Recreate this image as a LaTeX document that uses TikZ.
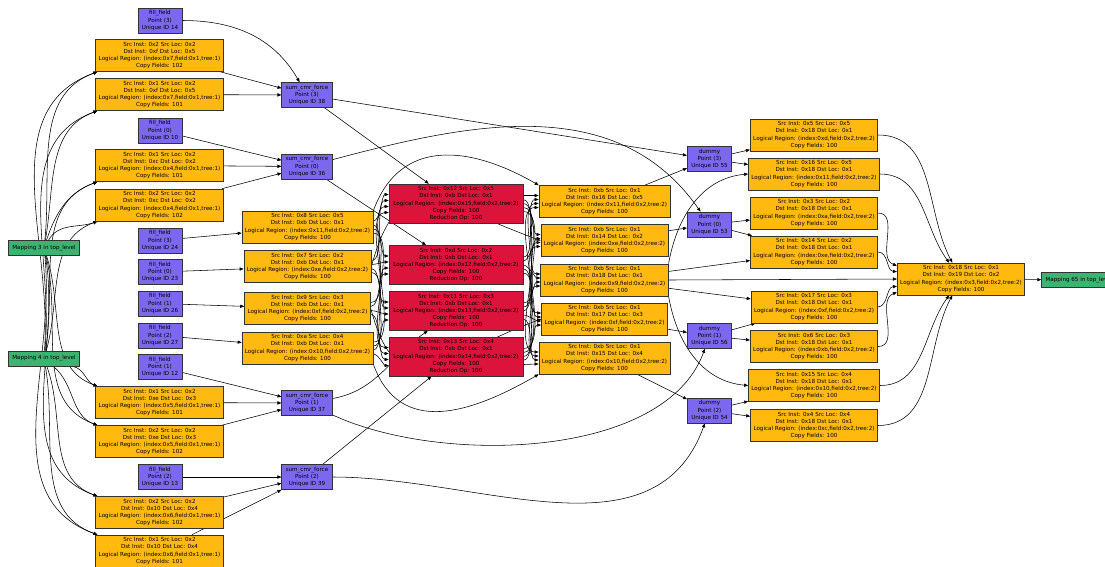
\documentclass[tikz,border=0pt]{standalone}
\usepackage{fontspec}
\setmainfont{DejaVu Sans}
\usetikzlibrary{arrows.meta}
\definecolor{cporange}{RGB}{255,185,15}
\definecolor{redop}{RGB}{220,20,60}
\definecolor{taskblue}{RGB}{123,104,238}
\definecolor{mapgreen}{RGB}{60,179,113}
\newcommand\cpx[6]{Src Inst: #1 Src Loc: #2\\Dst Inst: #3 Dst Loc: #4\\Logical Region: (#5)\\Copy Fields: #6}
\newcommand\tsk[3]{#1\\Point (#2)\\Unique ID #3}
\pgfdeclarelayer{bg}\pgfsetlayers{bg,main}
\begin{document}
\begin{tikzpicture}[x=1pt,y=-1pt,
 box/.style={draw=black!80, line width=0.6pt, align=center, font=\fontsize{5.6}{7.2}\selectfont, inner xsep=3pt, inner ysep=0pt},
 cp/.style={box, fill=cporange, minimum height=32pt},
 rd/.style={box, fill=redop, minimum height=39pt, minimum width=134pt},
 tk/.style={box, fill=taskblue, minimum height=25pt, inner xsep=4pt},
 mp/.style={box, fill=mapgreen, minimum height=15pt, inner xsep=4pt},
 arr/.style={draw=black, line width=0.55pt, -{Triangle[length=4pt,width=3.2pt]}}]
\useasboundingbox (0,0) rectangle (1105,566);
% left column
\node[tk] (fill14) at (160,20.5) {\tsk{fill\_field}{3}{14}};
\node[cp] (cc1) at (159.5,55.5) {\cpx{0x2}{0x2}{0xf}{0x5}{index:0x7,field:0x1,tree:1}{102}};
\node[cp] (cc2) at (159.5,94.5) {\cpx{0x1}{0x2}{0xf}{0x5}{index:0x7,field:0x1,tree:1}{101}};
\node[tk] (fill10) at (160,130.5) {\tsk{fill\_field}{0}{10}};
\node[cp] (cc3) at (159.5,165.5) {\cpx{0x1}{0x2}{0xc}{0x2}{index:0x4,field:0x1,tree:1}{101}};
\node[cp] (cc4) at (159.5,205) {\cpx{0x2}{0x2}{0xc}{0x2}{index:0x4,field:0x1,tree:1}{102}};
\node[tk] (fill24) at (160,240.5) {\tsk{fill\_field}{3}{24}};
\node[tk] (fill23) at (160,272) {\tsk{fill\_field}{0}{23}};
\node[tk] (fill26) at (160,303.5) {\tsk{fill\_field}{1}{26}};
\node[tk] (fill27) at (160,335.5) {\tsk{fill\_field}{2}{27}};
\node[tk] (fill12) at (160,367) {\tsk{fill\_field}{1}{12}};
\node[cp] (cc5) at (159.5,402.5) {\cpx{0x1}{0x2}{0xe}{0x3}{index:0x5,field:0x1,tree:1}{101}};
\node[cp] (cc6) at (159.5,441.5) {\cpx{0x2}{0x2}{0xe}{0x3}{index:0x5,field:0x1,tree:1}{102}};
\node[tk] (fill13) at (160,477) {\tsk{fill\_field}{2}{13}};
\node[cp] (cc7) at (159.5,512.5) {\cpx{0x2}{0x2}{0x10}{0x4}{index:0x6,field:0x1,tree:1}{102}};
\node[cp] (cc8) at (159.5,551) {\cpx{0x1}{0x2}{0x10}{0x4}{index:0x6,field:0x1,tree:1}{101}};
\node[mp] (map3) at (44,248) {Mapping 3 in top\_level};
\node[mp] (map4) at (44,358.5) {Mapping 4 in top\_level};
% sum tasks
\node[tk] (sum38) at (307,95) {\tsk{sum\_cmr\_force}{3}{38}};
\node[tk] (sum36) at (307,166.5) {\tsk{sum\_cmr\_force}{0}{36}};
\node[tk] (sum37) at (307,403) {\tsk{sum\_cmr\_force}{1}{37}};
\node[tk] (sum39) at (307,477) {\tsk{sum\_cmr\_force}{2}{39}};
% middle copies
\node[cp] (mc1) at (307.5,227) {\cpx{0x8}{0x5}{0xb}{0x1}{index:0x11,field:0x2,tree:2}{100}};
\node[cp] (mc2) at (307.5,266.5) {\cpx{0x7}{0x2}{0xb}{0x1}{index:0xe,field:0x2,tree:2}{100}};
\node[cp] (mc3) at (307.5,308.5) {\cpx{0x9}{0x3}{0xb}{0x1}{index:0xf,field:0x2,tree:2}{100}};
\node[cp] (mc4) at (307.5,348) {\cpx{0xa}{0x4}{0xb}{0x1}{index:0x10,field:0x2,tree:2}{100}};
% reductions
\node[rd] (rc1) at (456,203.5) {\cpx{0x12}{0x5}{0xb}{0x1}{index:0x15,field:0x2,tree:2}{100}\\Reduction Op: 100};
\node[rd] (rc2) at (456,265) {\cpx{0xd}{0x2}{0xb}{0x1}{index:0x12,field:0x2,tree:2}{100}\\Reduction Op: 100};
\node[rd] (rc3) at (456,311) {\cpx{0x11}{0x3}{0xb}{0x1}{index:0x13,field:0x2,tree:2}{100}\\Reduction Op: 100};
\node[rd] (rc4) at (456,356.5) {\cpx{0x13}{0x4}{0xb}{0x1}{index:0x14,field:0x2,tree:2}{100}\\Reduction Op: 100};
% outgoing copies
\node[cp] (nc1) at (604.5,201.5) {\cpx{0xb}{0x1}{0x16}{0x5}{index:0x11,field:0x2,tree:2}{100}};
\node[cp] (nc2) at (604.5,240.5) {\cpx{0xb}{0x1}{0x14}{0x2}{index:0xe,field:0x2,tree:2}{100}};
\node[cp] (nc3) at (604.5,280) {\cpx{0xb}{0x1}{0x18}{0x1}{index:0x9,field:0x2,tree:2}{100}};
\node[cp] (nc4) at (604.5,319) {\cpx{0xb}{0x1}{0x17}{0x3}{index:0xf,field:0x2,tree:2}{100}};
\node[cp] (nc5) at (604.5,358) {\cpx{0xb}{0x1}{0x15}{0x4}{index:0x10,field:0x2,tree:2}{100}};
% dummies
\node[tk] (d55) at (709.5,159) {\tsk{dummy}{3}{55}};
\node[tk] (d53) at (709.5,224.5) {\tsk{dummy}{0}{53}};
\node[tk] (d56) at (709.5,336) {\tsk{dummy}{1}{56}};
\node[tk] (d54) at (709.5,410.5) {\tsk{dummy}{2}{54}};
% right copies
\node[cp] (pc1) at (814,135) {\cpx{0x5}{0x5}{0x18}{0x1}{index:0xd,field:0x2,tree:2}{100}};
\node[cp] (pc2) at (814,174) {\cpx{0x16}{0x5}{0x18}{0x1}{index:0x11,field:0x2,tree:2}{100}};
\node[cp] (pc3) at (814,213) {\cpx{0x3}{0x2}{0x18}{0x1}{index:0xa,field:0x2,tree:2}{100}};
\node[cp] (pc4) at (814,252) {\cpx{0x14}{0x2}{0x18}{0x1}{index:0xe,field:0x2,tree:2}{100}};
\node[cp] (pc5) at (814,307) {\cpx{0x17}{0x3}{0x18}{0x1}{index:0xf,field:0x2,tree:2}{100}};
\node[cp] (pc6) at (814,346.5) {\cpx{0x6}{0x3}{0x18}{0x1}{index:0xb,field:0x2,tree:2}{100}};
\node[cp] (pc7) at (814,385.5) {\cpx{0x15}{0x4}{0x18}{0x1}{index:0x10,field:0x2,tree:2}{100}};
\node[cp] (pc8) at (814,425.5) {\cpx{0x4}{0x4}{0x18}{0x1}{index:0xc,field:0x2,tree:2}{100}};
% final
\node[cp] (fc) at (961,279) {\cpx{0x18}{0x1}{0x19}{0x2}{index:0x3,field:0x2,tree:2}{100}};
\node[mp] (map65) at (1079,280) {Mapping 65 in top\_level};

\begin{pgfonlayer}{bg}
% mappings to first copies
\foreach \c/\o in {cc1/84,cc2/80,cc3/72,cc4/60}
  \draw[arr] (map3) to[out=\o,in=200] ([xshift=2pt]\c.south west);
\foreach \c/\o in {cc5/-72,cc6/-76,cc7/-80,cc8/-84}
  \draw[arr] (map3) to[out=\o,in=160] ([xshift=2pt]\c.north west);
\foreach \c/\o in {cc1/86,cc2/84,cc3/80,cc4/74}
  \draw[arr] (map4) to[out=\o,in=200] ([xshift=2pt]\c.south west);
\foreach \c/\o in {cc5/-15,cc6/-40,cc7/-70,cc8/-80}
  \draw[arr] (map4) to[out=\o,in=160] ([xshift=2pt]\c.north west);
% into sum tasks
\draw[arr] (fill14) to[out=0,in=120] (sum38);
\draw[arr] (cc1) -- (sum38);
\draw[arr] (cc2) -- (sum38);
\draw[arr] (fill10) -- (sum36);
\draw[arr] (cc3) -- (sum36);
\draw[arr] (cc4) -- (sum36);
\draw[arr] (fill12) -- (sum37);
\draw[arr] (cc5) -- (sum37);
\draw[arr] (cc6) -- (sum37);
\draw[arr] (fill13) -- (sum39);
\draw[arr] (cc7) -- (sum39);
\draw[arr] (cc8) -- (sum39);
% fills to middle copies
\draw[arr] (fill24) -- (mc1);
\draw[arr] (fill23) -- (mc2);
\draw[arr] (fill26) -- (mc3);
\draw[arr] (fill27) -- (mc4);
% sums to reductions and dummies
\draw[arr] (sum38) -- (rc1);
\draw[arr] (sum36) -- (rc2);
\draw[arr] (sum37) to[out=10,in=215] (rc3);
\draw[arr] (sum39) -- (rc4);
\draw[arr] (sum38) -- (d55);
\draw[arr] (sum36) to[out=15,in=125] (d53);
\draw[arr] (sum37) to[out=-25,in=250,looseness=0.8] (d56);
\draw[arr] (sum39) to[out=0,in=250] (d54);
% middle copies to reductions
\foreach \i in {1,2,3,4}{
  \foreach \j in {1,2,3,4}{
    \draw[arr] ([yshift={(2.5-\j)*4pt}]mc\i.east) to[out=0,in=180,looseness=0.6] ([yshift={(2.5-\i)*6pt}]rc\j.west);
  }
}
% reductions to outgoing copies
\foreach \i in {1,2,3,4}{
  \foreach \k in {1,2,3,4,5}{
    \draw[arr] ([yshift={(3-\k)*4pt}]rc\i.east) to[out=0,in=180,looseness=0.6] ([yshift={(2.5-\i)*4pt}]nc\k.west);
  }
}
% loops around reductions
\draw[arr] (mc1.north east) to[out=70,in=150,looseness=1.2] (nc1.north west);
\draw[arr] (mc2.east) to[out=75,in=160,looseness=1.6] (nc2.west);
\draw[arr] (mc3.east) to[out=-75,in=-160,looseness=1.6] (nc4.west);
\draw[arr] (mc4.south east) to[out=-70,in=-150,looseness=1.2] (nc5.south west);
% outgoing copies to dummies and right copies
\draw[arr] (nc1) -- (d55);
\draw[arr] (nc2) -- (d53);
\draw[arr] (nc4) -- (d56);
\draw[arr] (nc5) -- (d54);
\draw[arr] (nc3.north east) to[out=80,in=185] (pc2.west);
\draw[arr] (nc3) -- (pc4);
\draw[arr] (nc3.east) -- (fc.west);
\draw[arr] (nc3) -- (pc5);
\draw[arr] (nc3.south east) to[out=-80,in=175] (pc7.west);
% dummies to right copies
\draw[arr] (d55) -- (pc1);
\draw[arr] (d55) -- (pc2);
\draw[arr] (d53) -- (pc3);
\draw[arr] (d53) -- (pc4);
\draw[arr] (d56) -- (pc5);
\draw[arr] (d56) -- (pc6);
\draw[arr] (d54) -- (pc7);
\draw[arr] (d54) -- (pc8);
% right copies to final
\draw[arr] (pc1) to[out=0,in=118] (fc);
\draw[arr] (pc2) to[out=0,in=126] (fc);
\draw[arr] (pc3) to[out=0,in=160] ([yshift=-3pt]fc.north west);
\draw[arr] (pc4) to[out=0,in=175] ([yshift=-9pt]fc.north west);
\draw[arr] (pc5) to[out=0,in=185] ([yshift=9pt]fc.south west);
\draw[arr] (pc6) to[out=0,in=200] ([yshift=3pt]fc.south west);
\draw[arr] (pc7) to[out=0,in=234] (fc);
\draw[arr] (pc8) to[out=0,in=242] (fc);
\draw[arr] (fc) -- (map65);
\end{pgfonlayer}
\end{tikzpicture}
\end{document}
